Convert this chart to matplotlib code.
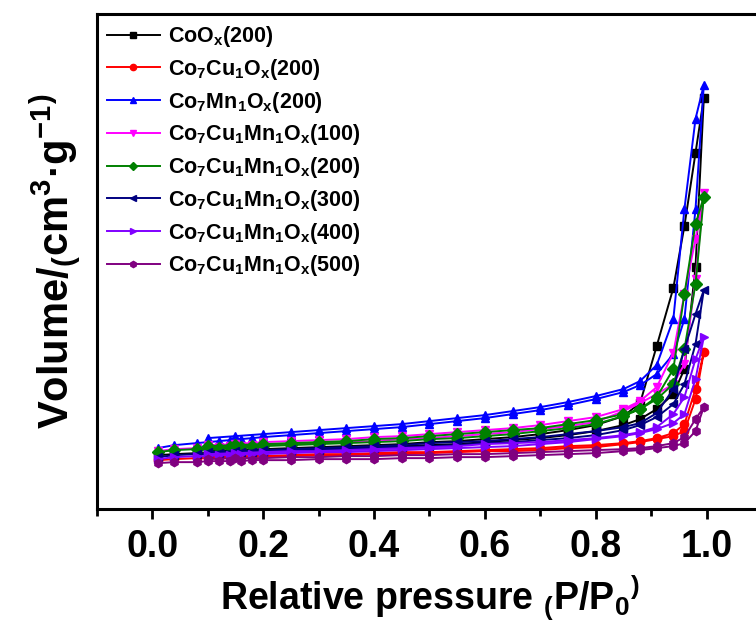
import matplotlib
matplotlib.use("Agg")
import matplotlib.pyplot as plt
from matplotlib.ticker import MultipleLocator

plt.rcParams['font.family'] = ['Liberation Sans', 'DejaVu Sans']
plt.rcParams['font.weight'] = 'bold'
plt.rcParams['mathtext.fontset'] = 'custom'
plt.rcParams['mathtext.rm'] = 'Liberation Sans:bold'
plt.rcParams['mathtext.bf'] = 'Liberation Sans:bold'
plt.rcParams['mathtext.it'] = 'Liberation Sans:bold'
plt.rcParams['mathtext.default'] = 'regular'

# Relative pressure points (adsorption up, desorption down)
p_ads = [0.01, 0.04, 0.08, 0.10, 0.12, 0.14, 0.16, 0.18, 0.20, 0.25, 0.30, 0.35, 0.40,
         0.45, 0.50, 0.55, 0.60, 0.65, 0.70, 0.75, 0.80, 0.85, 0.88, 0.91, 0.94, 0.96,
         0.98, 0.995]
p_des = [0.98, 0.96, 0.94, 0.91, 0.88, 0.85, 0.80, 0.75, 0.70, 0.65, 0.60, 0.55, 0.50,
         0.45, 0.40, 0.35, 0.30, 0.25, 0.20, 0.15, 0.10]

labels = [r'CoO$_x$(200)', r'Co$_7$Cu$_1$O$_x$(200)', r'Co$_7$Mn$_1$O$_x$(200)',
          r'Co$_7$Cu$_1$Mn$_1$O$_x$(100)', r'Co$_7$Cu$_1$Mn$_1$O$_x$(200)',
          r'Co$_7$Cu$_1$Mn$_1$O$_x$(300)', r'Co$_7$Cu$_1$Mn$_1$O$_x$(400)',
          r'Co$_7$Cu$_1$Mn$_1$O$_x$(500)']
colors = ['#000000', '#FF0000', '#0000FF', '#FF00FF', '#008000', '#000080', '#8000FF', '#800080']
markers = ['s', 'o', '^', 'v', 'D', '<', '>', 'h']

coox_ads = [54, 55, 56, 56, 57, 57, 58, 58, 58, 59, 60, 61, 62, 63, 64, 65, 67, 69, 71, 74,
            78, 84, 90, 100, 115, 140, 242, 411]
coox_des = [356, 283, 221, 163, 106, 93, 84, 79, 75, 72, 70, 68, 67, 65, 64, 63, 62, 61, 60, 59, 58]

cocu_ads = [49, 50, 51, 51, 51, 52, 52, 52, 53, 53, 54, 54, 55, 55, 56, 57, 58, 58, 59, 61,
            62, 65, 67, 70, 73, 78, 110, 157]
cocu_des = [120, 85, 76, 71, 68, 66, 64, 63, 61, 60, 59, 58, 57, 57, 56, 55, 55, 54, 53, 53, 52]

comn_ads = [61, 64, 66, 67, 68, 69, 70, 71, 72, 74, 76, 78, 80, 82, 85, 88, 91, 95, 99, 104,
            110, 117, 124, 135, 155, 190, 300, 424]
comn_des = [390, 300, 190, 144, 128, 120, 113, 107, 102, 98, 94, 91, 88, 85, 83, 81, 79, 77, 75, 73, 71]

ccm100_ads = [58, 60, 61, 62, 62, 63, 63, 64, 64, 65, 66, 67, 68, 70, 71, 73, 75, 77, 80, 83,
              87, 98, 106, 115, 125, 145, 230, 316]
ccm100_des = [270, 215, 156, 122, 108, 100, 92, 88, 84, 81, 79, 77, 75, 73, 72, 70, 69, 68, 67, 65, 64]

ccm200_ads = [57, 59, 60, 61, 61, 62, 62, 63, 63, 64, 65, 66, 67, 68, 70, 71, 73, 75, 78, 81,
              85, 93, 100, 110, 125, 160, 225, 312]
ccm200_des = [285, 215, 140, 112, 100, 95, 89, 85, 81, 79, 77, 75, 73, 71, 70, 68, 67, 66, 65, 64, 63]

ccm300_ads = [52, 54, 55, 55, 56, 56, 57, 57, 57, 58, 59, 60, 61, 62, 63, 64, 66, 67, 69, 71,
              74, 79, 84, 92, 105, 125, 165, 219]
ccm300_des = [195, 160, 120, 96, 86, 82, 78, 75, 72, 70, 68, 67, 66, 64, 63, 62, 61, 60, 59, 58, 57]

ccm400_ads = [50, 52, 53, 53, 54, 54, 55, 55, 55, 56, 57, 57, 58, 59, 60, 61, 62, 63, 65, 67,
              70, 73, 76, 80, 86, 95, 130, 172]
ccm400_des = [150, 112, 95, 82, 77, 74, 71, 69, 67, 66, 65, 63, 62, 61, 60, 59, 58, 58, 57, 56, 55]

ccm500_ads = [46, 47, 47, 48, 48, 48, 48, 49, 49, 49, 50, 50, 50, 51, 51, 52, 52, 53, 54, 55,
              56, 58, 59, 61, 63, 66, 78, 102]
ccm500_des = [90, 72, 66, 63, 61, 60, 59, 58, 57, 56, 55, 55, 54, 54, 53, 53, 52, 52, 51, 51, 50]

series_ads = [coox_ads, cocu_ads, comn_ads, ccm100_ads, ccm200_ads, ccm300_ads, ccm400_ads, ccm500_ads]
series_des = [coox_des, cocu_des, comn_des, ccm100_des, ccm200_des, ccm300_des, ccm400_des, ccm500_des]

fig = plt.figure(figsize=(7.56, 6.24), dpi=100)
ax = fig.add_axes([0.128, 0.184, 0.880, 0.794])

for lab, col, mk, va, vd in zip(labels, colors, markers, series_ads, series_des):
    x = p_ads + p_des
    y = va + vd
    ax.plot(x, y, color=col, marker=mk, markersize=6, linewidth=1.4, label=lab)

ax.set_xlim(-0.1, 1.1)
ax.set_ylim(0, 495)
ax.xaxis.set_major_locator(MultipleLocator(0.2))
ax.xaxis.set_minor_locator(MultipleLocator(0.1))
ax.set_xticks([0.0, 0.2, 0.4, 0.6, 0.8, 1.0])
ax.set_yticks([])
ax.tick_params(axis='x', which='major', direction='out', length=7, width=2, labelsize=27, pad=7)
ax.tick_params(axis='x', which='minor', direction='out', length=5, width=2)
for lbl in ax.get_xticklabels():
    lbl.set_fontweight('bold')
for s in ax.spines.values():
    s.set_linewidth(2.2)

ax.set_xlabel(r'Relative pressure $_{(}$P/P$_0$$^{)}$', fontsize=27, fontweight='bold', labelpad=6)
ax.set_ylabel('Volume/$_($cm$^3$\u00b7g$^{-1}$$^)$', fontsize=30, fontweight='bold', labelpad=10)

leg = ax.legend(loc='upper left', frameon=False, fontsize=15.5, handlelength=2.45,
                handletextpad=0.4, labelspacing=0.36, borderaxespad=0.08, markerscale=0.75)
for t in leg.get_texts():
    t.set_fontweight('bold')

fig.savefig('out.png', dpi=100)
